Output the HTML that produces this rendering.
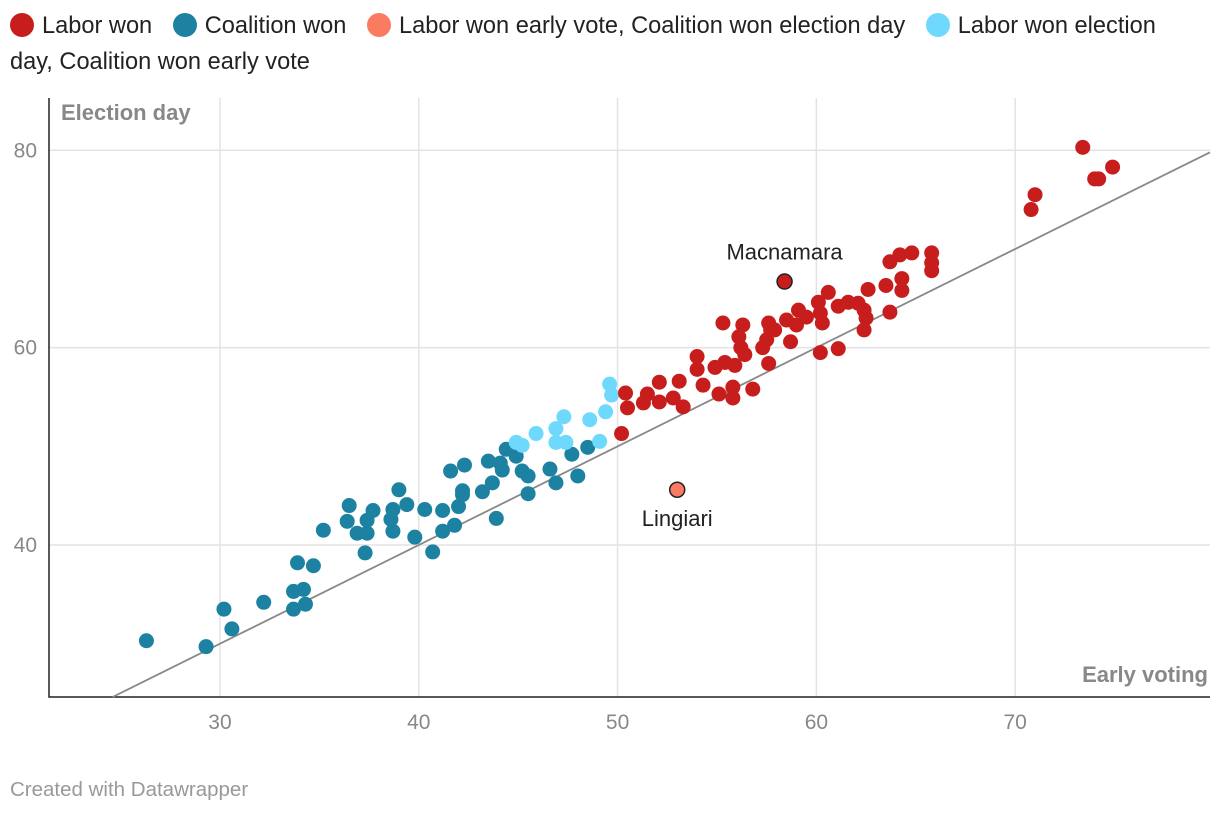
<!DOCTYPE html>
<html><head><meta charset="utf-8"><style>
body{margin:0;background:#fff;width:1220px;height:816px;overflow:hidden;font-family:"Liberation Sans",sans-serif}
.leg{position:absolute;left:10px;top:8px;width:1185px;font-size:23.6px;line-height:36px;color:#222}
.li{display:inline;margin-right:14px}
.dot{display:inline-block;width:24px;height:24px;border-radius:50%;vertical-align:-4px;margin-right:8px}
.foot{position:absolute;left:10px;top:778px;font-size:20.5px;color:#999}
svg{position:absolute;left:0;top:0}
</style></head><body>
<div class="leg">
<span class="li"><span class="dot" style="background:#c71e1d"></span>Labor won</span>
<span class="li"><span class="dot" style="background:#1d81a2"></span>Coalition won</span>
<span class="li"><span class="dot" style="background:#fa7b62"></span>Labor won early vote, Coalition won election day</span>
<span class="li"><span class="dot" style="background:#6fd9fd"></span>Labor won election day, Coalition won early vote</span>
</div>
<svg id="chart" width="1220" height="816"></svg>
<div class="foot">Created with Datawrapper</div>
<script>
const xTicks=[30,40,50,60,70];
const yTicks=[40,60,80];
const coalX=[26.3,29.3,30.2,30.6,32.2,33.7,34.3,33.7,34.2,33.9,34.7,35.2,36.4,36.5,36.9,37.4,37.3,37.4,37.7,38.6,38.7,38.7,39.0,39.4,39.8,40.3,40.7,41.2,41.2,41.8,42.0,42.2,42.2,41.6,42.3,43.2,43.7,43.9,43.5,44.1,44.2,44.4,44.9,45.2,45.5,45.5,46.6,46.9,47.7,48.0,48.5];
const coalY=[30.3,29.7,33.5,31.5,34.2,33.5,34.0,35.3,35.5,38.2,37.9,41.5,42.4,44.0,41.2,41.2,39.2,42.5,43.5,42.6,41.4,43.6,45.6,44.1,40.8,43.6,39.3,43.5,41.4,42.0,43.9,45.5,45.1,47.5,48.1,45.4,46.3,42.7,48.5,48.3,47.6,49.7,49.0,47.5,47.0,45.2,47.7,46.3,49.2,47.0,49.9];
const mixX=[44.9,45.2,45.9,46.9,47.3,46.9,47.4,48.6,49.4,49.1,49.6,49.7];
const mixY=[50.4,50.1,51.3,51.8,53.0,50.4,50.4,52.7,53.5,50.5,56.3,55.2];
const laborX=[50.2,50.4,50.5,51.3,51.5,52.1,52.1,52.8,53.1,53.3,54.0,54.0,54.3,55.1,54.9,55.4,55.9,55.8,55.8,56.8,55.3,56.3,56.1,56.2,56.4,57.3,57.5,57.6,57.7,57.6,57.9,58.7,58.5,59.1,59.0,59.5,60.1,60.2,60.3,60.6,60.2,61.1,61.1,61.6,62.1,62.4,62.5,62.4,62.6,63.5,63.7,63.7,64.2,64.8,64.3,64.3,65.8,65.8,65.8,70.8,71.0,73.4,74.0,74.2,74.9];
const laborY=[51.3,55.4,53.9,54.4,55.3,56.5,54.5,54.9,56.6,54.0,59.1,57.8,56.2,55.3,58.0,58.5,58.2,56.0,54.9,55.8,62.5,62.3,61.1,60.0,59.3,60.0,60.8,62.5,61.8,58.4,61.8,60.6,62.8,63.8,62.3,63.1,64.6,63.5,62.5,65.6,59.5,59.9,64.2,64.6,64.5,63.8,63.0,61.8,65.9,66.3,63.6,68.7,69.4,69.6,67.0,65.8,69.6,68.6,67.8,74.0,75.5,80.3,77.1,77.1,78.3];
const labels=["Macnamara","Lingiari"];
const labelX=[58.4,53.0];
const labelY=[66.7,45.6];
const labelColor=["#c71e1d","#fa7b62"];

const X0=21.4,X1=79.8,Y0=24.6,Y1=85.3,L=49,R=1210,T=98,B=697;
const sx=v=>L+(v-X0)/(X1-X0)*(R-L);
const sy=v=>B-(v-Y0)/(Y1-Y0)*(B-T);
const svg=document.getElementById('chart');
const NS='http://www.w3.org/2000/svg';
function mk(t,a){const e=document.createElementNS(NS,t);for(const k in a)e.setAttribute(k,a[k]);svg.appendChild(e);return e;}
xTicks.forEach(t=>{
 const g=mk('line',{x1:sx(t),x2:sx(t),y1:T,y2:B,stroke:'#e3e3e3','stroke-width':1.5});
 
 
 const tx=mk('text',{x:sx(t),y:B+32,'text-anchor':'middle','font-size':21,fill:'#888'});
 tx.textContent=t;
 
 
});
yTicks.forEach(t=>{
 const g=mk('line',{x1:L,x2:R,y1:sy(t),y2:sy(t),stroke:'#e3e3e3','stroke-width':1.5});
 
 
 const tx=mk('text',{x:L-12,y:sy(t)+7,'text-anchor':'end','font-size':21,fill:'#888'});
 tx.textContent=t;
 
 
});
const ax=mk('path',{d:`M${L},${T}V${B}H${R}`,stroke:'#222','stroke-width':1.5,fill:'none'});


const yt=mk('text',{x:61,y:120,'font-size':22,'font-weight':'bold',fill:'#888'});
yt.textContent='Election day';


const xt=mk('text',{x:1208,y:682,'text-anchor':'end','font-size':22,'font-weight':'bold',fill:'#888'});
xt.textContent='Early voting';


const dl=mk('line',{x1:sx(Y0),y1:sy(Y0),x2:sx(X1),y2:sy(X1),stroke:'#888','stroke-width':1.8});


function pts(xs,ys,col,name){xs.forEach((x,i)=>{
 const c=mk('circle',{cx:sx(x),cy:sy(ys[i]),r:7.5,fill:col});
 
 
});}
pts(coalX,coalY,'#1d81a2','coalition-point');
pts(mixX,mixY,'#6fd9fd','labor-day-point');
pts(laborX,laborY,'#c71e1d','labor-point');
labels.forEach((n,i)=>{
 const c=mk('circle',{cx:sx(labelX[i]),cy:sy(labelY[i]),r:7.5,fill:labelColor[i],stroke:'#222','stroke-width':1.5});
 
 
 const t=mk('text',{x:sx(labelX[i]),y:i==0?sy(labelY[i])-22:sy(labelY[i])+36,'text-anchor':'middle','font-size':22,fill:'#222'});
 t.textContent=n;
 
 
});
</script>
</body></html>
